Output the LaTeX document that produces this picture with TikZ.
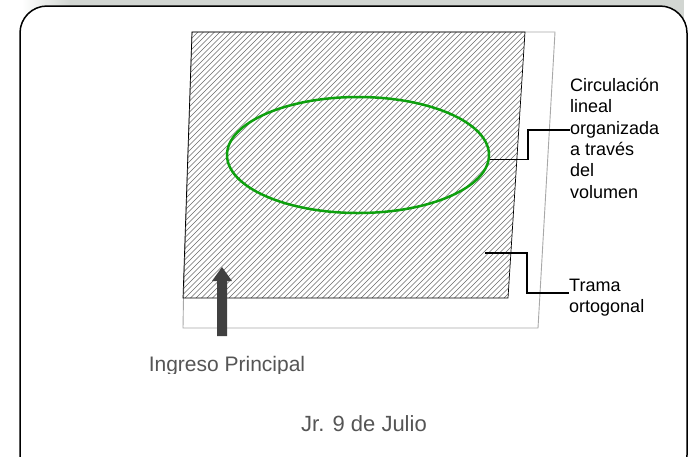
\documentclass[tikz,border=0pt]{standalone}
\usepackage{fontspec}
\setmainfont{Liberation Sans}
\usetikzlibrary{shapes.geometric}
\definecolor{bandcol}{HTML}{D2D6D2}
\definecolor{hatchcol}{HTML}{6A6A6A}
\definecolor{outlinecol}{HTML}{A8A8A8}
\definecolor{ellgreen}{HTML}{0EA00E}
\definecolor{arrowcol}{HTML}{404040}
\definecolor{txtgray}{HTML}{555555}
\tikzset{
  frame/.style={draw=black, line width=1.5pt, fill=white, rounded corners=27pt},
  hatchline/.style={draw=hatchcol, line width=0.5pt},
  hatchborder/.style={draw=black, line width=0.7pt},
  outline/.style={draw=outlinecol, line width=0.9pt},
  leader/.style={draw=black, line width=1.2pt},
  lbl/.style={font=\fontsize{18}{21.3}\selectfont, align=left, inner sep=0pt, text=black},
  grylbl/.style={text=txtgray, inner sep=0pt},
  ellshape/.style={ellipse, draw=ellgreen, line width=2.5pt, minimum width=262pt, minimum height=116pt, inner sep=0pt}
}
\begin{document}
\begin{tikzpicture}[x=1pt,y=-1pt]
\useasboundingbox (0,0) rectangle (690,456);
\clip (0,0) rectangle (690,456);
% top shadow band
\shade[left color=white, right color=bandcol] (22,0) rectangle (70,24);
\fill[bandcol] (70,0) rectangle (684,24);
% frame
\draw[frame] (20,6) rectangle (687,482);
% gray outline
\draw[outline] (192,32) -- (555,32) -- (538,328) -- (183,328) -- (183.5,298) -- cycle;
% hatched parallelogram
\begin{scope}
  \clip (192,32) -- (525,32) -- (508,298) -- (183,298) -- cycle;
  \foreach \i in {-90,-84.5,...,530} \draw[hatchline] (\i,298) -- ++(266,-266);
\end{scope}
\draw[hatchborder] (192,32) -- (525,32) -- (508,298) -- (183,298) -- cycle;
% ellipse
\node[ellshape] (ell) at (358,155) {};
% arrow
\fill[arrowcol] (217,336) -- (217,281) -- (212,281) -- (222,267) -- (232,281) -- (227,281) -- (227,336) -- cycle;
% labels (anchor at baseline of last line)
\node[lbl, anchor=base west] (circ) at (570,198) {Circulación\\lineal\\organizada\\a través\\del\\volumen};
\node[lbl, anchor=base west] (trama) at (569,312.5) {Trama\\ortogonal};
\coordinate (tramastart) at (485,253);
\draw[leader] (ell.-2) -- (ell.-2 -| 528,0) |- (circ.west |- 0,130);
\draw[leader] (tramastart) -- (527,253) |- (trama.west |- 0,293);
\begin{scope}
  \clip (0,0) rectangle (690,373.5);
  \node[grylbl, font=\fontsize{21}{25}\selectfont, anchor=base] (ingreso) at (227,371.7) {Ingreso Principal};
\end{scope}
\node[grylbl, font=\fontsize{22}{26}\selectfont, anchor=base] (calle) at (364,431) {Jr. 9 de Julio};
\end{tikzpicture}
\end{document}
